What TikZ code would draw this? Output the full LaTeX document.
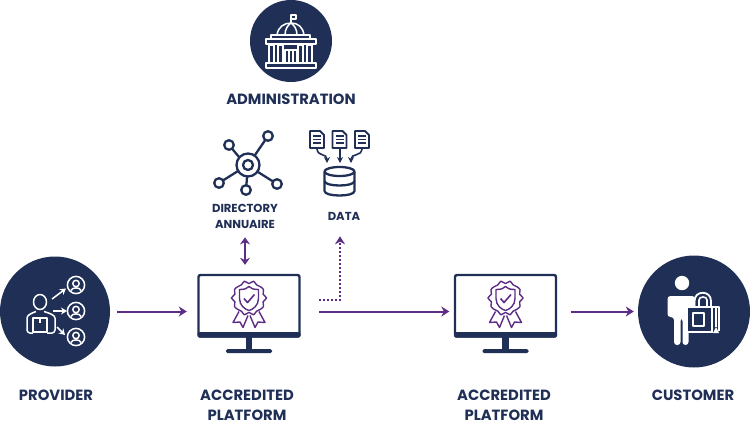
\documentclass[tikz,border=0pt]{standalone}
\usepackage{fontspec}
\setmainfont{Poppins}
\usetikzlibrary{arrows.meta}
\definecolor{navy}{HTML}{1F2F56}
\definecolor{plum}{HTML}{5C2D84}
\tikzset{
  disc/.style={circle,fill=navy,inner sep=0pt,minimum size=#1},
  platbox/.style={rectangle,inner sep=0pt,minimum width=102pt,minimum height=83pt},
  biglabel/.style={text=navy,font=\bfseries\fontsize{14.8}{20}\selectfont,align=center,inner sep=0pt},
  smalllabel/.style={text=navy,font=\bfseries\fontsize{11.6}{16}\selectfont,align=center,inner sep=0pt},
  flow/.style={plum,line width=2pt,-{Stealth[length=8pt,width=10pt]}},
  ink/.style={navy,line width=2.3pt,line join=round},
  chalk/.style={white,line width=1.5pt,line join=round},
  chalkarrow/.style={white,line width=1.5pt,-{Stealth[length=6pt,width=7pt]}},
  seal/.style={plum,line width=1.4pt,line join=round}
}
\begin{document}
\begin{tikzpicture}[x=1pt,y=-1pt]
\def\monitor{
  \draw[navy,line width=2.4pt,rounded corners=2pt] (-50.5,-36.5) rectangle (50.5,25);
  \fill[navy,rounded corners=1.5pt] (-51.5,20.5) rectangle (51.5,26);
  \fill[navy] (-3.2,25) rectangle (3.2,38);
  \fill[navy,rounded corners=1.5pt] (-23,37.5) rectangle (23,41.5);
  \draw[seal,smooth cycle,domain=0:345,samples=24,variable=\t]
    plot ({(16+1.6*cos(10*\t))*cos(\t)},{-13.5+(16+1.6*cos(10*\t))*sin(\t)});
  \draw[seal] (-9.5,-22) .. controls (-4,-22) and (-2,-23) .. (0,-25)
    .. controls (2,-23) and (4,-22) .. (9.5,-22) -- (9.5,-13)
    .. controls (9.5,-6) and (4,-2) .. (0,-1) .. controls (-4,-2) and (-9.5,-6) .. (-9.5,-13) -- cycle;
  \draw[seal,line width=1.6pt] (-5,-13) -- (-1.5,-9) -- (5.5,-17);
  \draw[seal] (-10,0) -- (-16,11) -- (-9,10.5) -- (-6,16) -- (-1,4);
  \draw[seal] (10,0) -- (16,11) -- (9,10.5) -- (6,16) -- (1,4);
}
\node[disc=82pt] (admin) at (291,41) {};
\node[disc=110pt] (provider) at (55,311.5) {};
\node[disc=112pt] (customer) at (694,311.5) {};
\node[platbox] (platA) at (249,311.5) {};
\node[platbox] (platB) at (505.5,311.5) {};
\node[biglabel] (lblAdmin) at (291,99) {ADMINISTRATION};
\node[biglabel] (lblProvider) at (56,395) {PROVIDER};
\node[biglabel] (lblPlatA) at (247,405) {ACCREDITED\\PLATFORM};
\node[biglabel] (lblPlatB) at (504,405) {ACCREDITED\\PLATFORM};
\node[biglabel] (lblCustomer) at (693,395) {CUSTOMER};
\node[smalllabel] (lblDir) at (245,216) {DIRECTORY\\ANNUAIRE};
\node[smalllabel] (lblData) at (344,216) {DATA};
\coordinate (dotA) at (319,300);
\begin{scope}[shift={(platA)}]
  \monitor
\end{scope}
\begin{scope}[shift={(platB)}]
  \monitor
\end{scope}
\draw[flow,shorten <=7pt,shorten >=11pt] (provider) -- (platA);
\draw[flow,shorten <=19pt,shorten >=5pt] (platA) -- (platB);
\draw[flow,shorten <=14pt,shorten >=4pt] (platB) -- (customer);
\draw[plum,line width=2pt,{Stealth[length=7pt,width=10pt]}-{Stealth[length=7pt,width=10pt]},shorten <=9pt,shorten >=5pt]
  (lblDir.south) -- (lblDir.south |- platA.north);
\draw[flow,dash pattern=on 2pt off 2pt,shorten >=16pt] (dotA) -| ([xshift=-4pt]lblData.south);
% administration
\draw[chalk] (266,39) rectangle (316,44);
\draw[chalk] (266,63) rectangle (316,68);
\draw[chalk] (271,39) -- (271,35) -- (310,35) -- (310,39);
\draw[chalk] (277,35) .. controls (278,27) and (284,23) .. (291,23) .. controls (298,23) and (303,27) .. (304,35);
\draw[chalk] (291,23) -- (291,15) -- (296,15) -- (296,19) -- (291,19);
\draw[chalk] (285,35) .. controls (285,29) and (288,25) .. (291,23) .. controls (294,25) and (297,29) .. (297,35);
\foreach \x in {269,278,298,307}
  \draw[chalk,line width=1.2pt] (\x,45) rectangle +(5,18);
\draw[chalk] (285,63) -- (285,50) -- (297,50) -- (297,63) (289,50) -- (289,63) (293,50) -- (293,63);
% directory
\draw[ink] (248,165) circle [radius=11.5];
\draw[ink] (248,165) circle [radius=5];
\foreach \px/\py/\qx/\qy in {229/145/239/157, 268/136/255/155, 219/183/238/171, 246/190/247/177, 277/184/258/172}{
  \draw[ink] (\px,\py) circle [radius=4.8];
  \draw[ink,shorten <=4.8pt] (\px,\py) -- (\qx,\qy);
}
% data
\foreach \x in {310,332.5,355}{
  \draw[navy,line width=1.8pt,line join=round] (\x,131) -- (\x+10,131) -- (\x+14,135) -- (\x+14,148) -- (\x,148) -- cycle;
  \foreach \y in {136,139.5,143}
    \draw[navy,line width=1.3pt] (\x+3,\y) -- (\x+11,\y);
}
\draw[navy,line width=1.6pt,-{Stealth[length=6pt,width=6pt]}] (317,149) .. controls (318,157) and (327,153) .. (327,163);
\draw[navy,line width=1.6pt,-{Stealth[length=6pt,width=6pt]}] (340,149) -- (340,163);
\draw[navy,line width=1.6pt,-{Stealth[length=6pt,width=6pt]}] (362,149) .. controls (361,157) and (351,153) .. (351,163);
\draw[ink] (339.5,171.5) ellipse [x radius=15,y radius=4.5];
\draw[ink] (324.5,171.5) -- (324.5,191) .. controls (324.5,197) and (354.5,197) .. (354.5,191) -- (354.5,171.5);
\draw[ink] (324.5,181) .. controls (324.5,187) and (354.5,187) .. (354.5,181);
% provider
\draw[chalk] (40,302) ellipse [x radius=6.5,y radius=7.5];
\draw[chalk,rounded corners=3pt] (33,333) -- (27,333) -- (27,321) .. controls (27,315) and (32,313) .. (36,311.5)
  (44,311.5) .. controls (49,313) and (55,315) .. (55,321) -- (55,333) -- (47,333);
\draw[chalk] (33,318) rectangle (47,332);
\draw[chalk] (40,318) -- (40,323);
\foreach \y in {285,311,337}{
  \begin{scope}[shift={(76,\y)}]
    \draw[chalk] (0,0) circle [radius=8.6];
    \draw[chalk] (0,-1.5) circle [radius=3.2];
    \draw[chalk] (-5,5.5) .. controls (-4,2) and (4,2) .. (5,5.5);
  \end{scope}
}
\draw[chalkarrow] (52,299) -- (66,288.5);
\draw[chalkarrow] (53,311) -- (67,311);
\draw[chalkarrow] (57,327) -- (65,335);
% customer
\fill[white] (682,283) circle [radius=7.2];
\fill[white,rounded corners=3pt] (667.5,317) -- (667.5,296) -- (695,296) -- (695,312) -- (688.5,312) -- (688.5,345)
  -- (682.5,345) -- (682.5,318) -- (680.5,318) -- (680.5,345) -- (674,345) -- (674,317) -- cycle;
\draw[chalk,line width=1.8pt] (694.5,307) -- (694.5,301) .. controls (694.5,290) and (711,290) .. (711,301) -- (711,307);
\draw[chalk,line width=1.6pt] (699,307) -- (699,300) .. controls (699,296) and (707,296) .. (707,300) -- (707,307);
\filldraw[fill=navy,draw=white,line width=2.2pt] (686.5,307) rectangle (712,332);
\draw[chalk,line width=1.9pt] (693,313) rectangle (704,326);
\draw[chalk] (713,307) -- (719,307) -- (719,331) (716,307) -- (716,327);
\fill[white] (716,327) -- (719,333) -- (713,333) -- cycle;
\useasboundingbox (0,0) rectangle (750,429);
\end{tikzpicture}
\end{document}
